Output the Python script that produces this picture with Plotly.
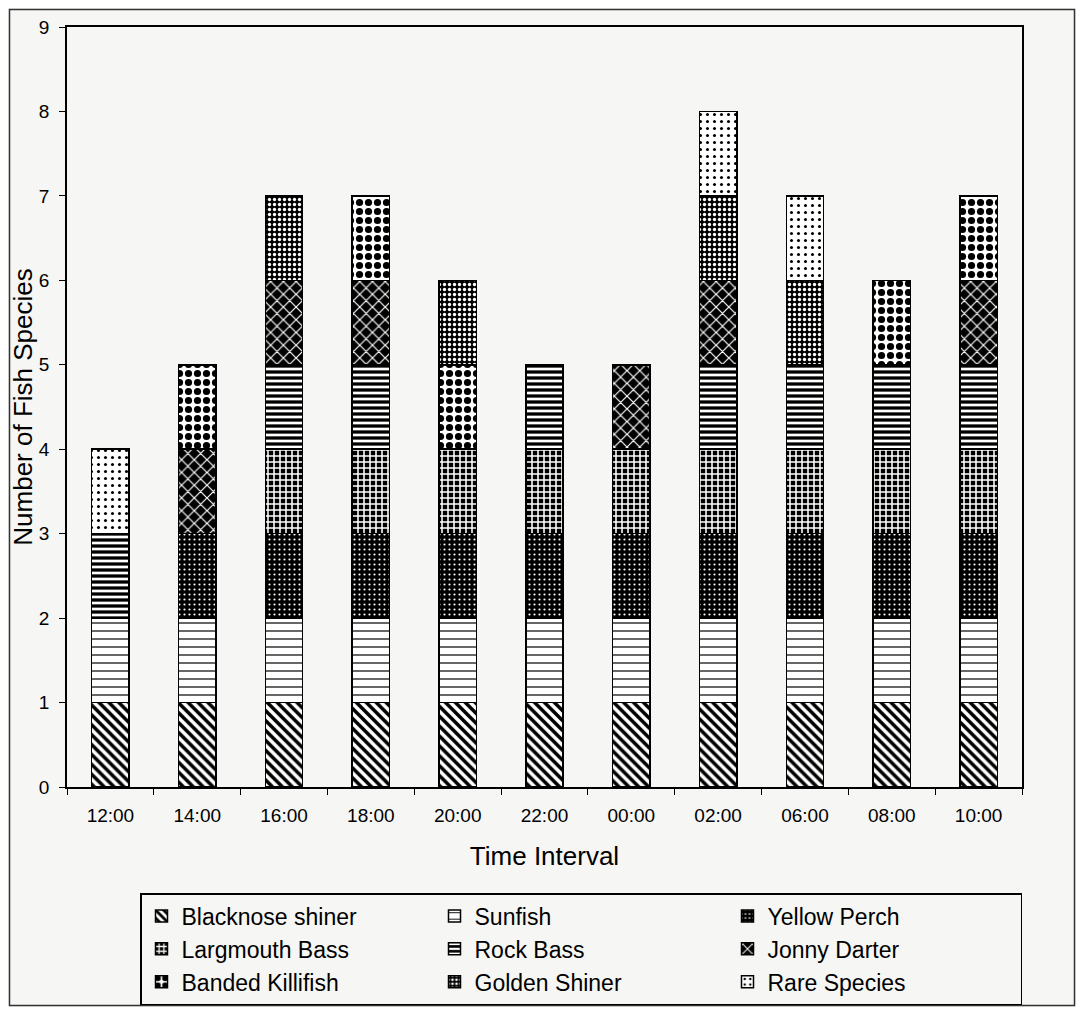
import plotly.graph_objects as go

categories = ["12:00", "14:00", "16:00", "18:00", "20:00", "22:00", "00:00", "02:00", "06:00", "08:00", "10:00"]

blacknose_shiner = [1, 1, 1, 1, 1, 1, 1, 1, 1, 1, 1]
sunfish          = [1, 1, 1, 1, 1, 1, 1, 1, 1, 1, 1]
yellow_perch     = [0, 1, 1, 1, 1, 1, 1, 1, 1, 1, 1]
largmouth_bass   = [0, 0, 1, 1, 1, 1, 1, 1, 1, 1, 1]
rock_bass        = [1, 0, 1, 1, 0, 1, 0, 1, 1, 1, 1]
jonny_darter     = [0, 1, 1, 1, 0, 0, 1, 1, 0, 0, 1]
banded_killifish = [0, 1, 0, 1, 1, 0, 0, 0, 0, 1, 1]
golden_shiner    = [0, 0, 1, 0, 1, 0, 0, 1, 1, 0, 0]
rare_species     = [1, 0, 0, 0, 0, 0, 0, 1, 1, 0, 0]

series = [
    ("Blacknose shiner", blacknose_shiner, dict(shape="\\", bgcolor="white", fgcolor="black", size=7, solidity=0.5)),
    ("Sunfish", sunfish, dict(shape="-", bgcolor="white", fgcolor="black", size=8, solidity=0.15)),
    ("Yellow Perch", yellow_perch, dict(shape=".", bgcolor="black", fgcolor="white", size=5, solidity=0.15)),
    ("Largmouth Bass", largmouth_bass, dict(shape="+", bgcolor="black", fgcolor="white", size=6, solidity=0.45)),
    ("Rock Bass", rock_bass, dict(shape="-", bgcolor="white", fgcolor="black", size=6, solidity=0.55)),
    ("Jonny Darter", jonny_darter, dict(shape="x", bgcolor="black", fgcolor="white", size=9, solidity=0.25)),
    ("Banded Killifish", banded_killifish, dict(shape=".", bgcolor="white", fgcolor="black", size=9, solidity=0.5)),
    ("Golden Shiner", golden_shiner, dict(shape=".", bgcolor="black", fgcolor="white", size=5, solidity=0.35)),
    ("Rare Species", rare_species, dict(shape=".", bgcolor="white", fgcolor="black", size=7, solidity=0.15)),
]

fig = go.Figure()
for name, vals, pat in series:
    fig.add_trace(go.Bar(
        x=categories, y=vals, name=name,
        marker=dict(color="white", pattern=dict(fillmode="replace", **pat),
                    line=dict(color="black", width=1.5)),
    ))

# page has an 8px body margin; work in page pixel coordinates and avoid scrollbars
OFF = 8
W, H = 1084 - 2 * OFF, 1015 - 2 * OFF
plot_left, plot_right, plot_top, plot_bottom = 67 - OFF, 1022 - OFF, 27 - OFF, 787 - OFF
L, R, T, B = plot_left, W - plot_right, plot_top, H - plot_bottom
pw, ph = W - L - R, H - T - B

def px_x(x):
    return (x - OFF - L) / pw

def px_y(y):
    return (H - B - (y - OFF)) / ph

fig.update_layout(
    width=W, height=H,
    margin=dict(l=L, r=R, t=T, b=B, autoexpand=False),
    barmode="stack", bargap=0.57,
    paper_bgcolor="#f6f6f4", plot_bgcolor="#f6f6f4",
    font=dict(family="Liberation Sans, Arial, sans-serif", color="black", size=18),
    xaxis=dict(
        type="category", showline=True, linecolor="black", linewidth=1.5, mirror=True,
        ticks="outside", ticklen=6, tickcolor="black", tickson="boundaries",
        tickfont=dict(size=19), ticklabelstandoff=10, automargin=False,
        title=dict(text="Time Interval", font=dict(size=26), standoff=22),
    ),
    yaxis=dict(
        range=[0, 9], dtick=1, showline=True, linecolor="black", linewidth=1.5, mirror=True,
        ticks="outside", ticklen=6, tickcolor="black", showgrid=False, zeroline=False,
        tickfont=dict(size=19), ticklabelstandoff=6, automargin=False,
        title=dict(text="Number of Fish Species", font=dict(size=26), standoff=14),
    ),
    legend=dict(
        orientation="h", x=px_x(140), xanchor="left", y=px_y(893), yanchor="top",
        bordercolor="black", borderwidth=1.5, bgcolor="#f6f6f4",
        font=dict(size=23), entrywidth=248, traceorder="normal",
    ),
    showlegend=True,
    shapes=[dict(type="rect", xref="paper", yref="paper",
                 x0=px_x(9.5), x1=px_x(1074.5), y0=px_y(1005.5), y1=px_y(9.5),
                 line=dict(color="#333333", width=1.5), layer="below")],
)

fig.write_html("out.html")
